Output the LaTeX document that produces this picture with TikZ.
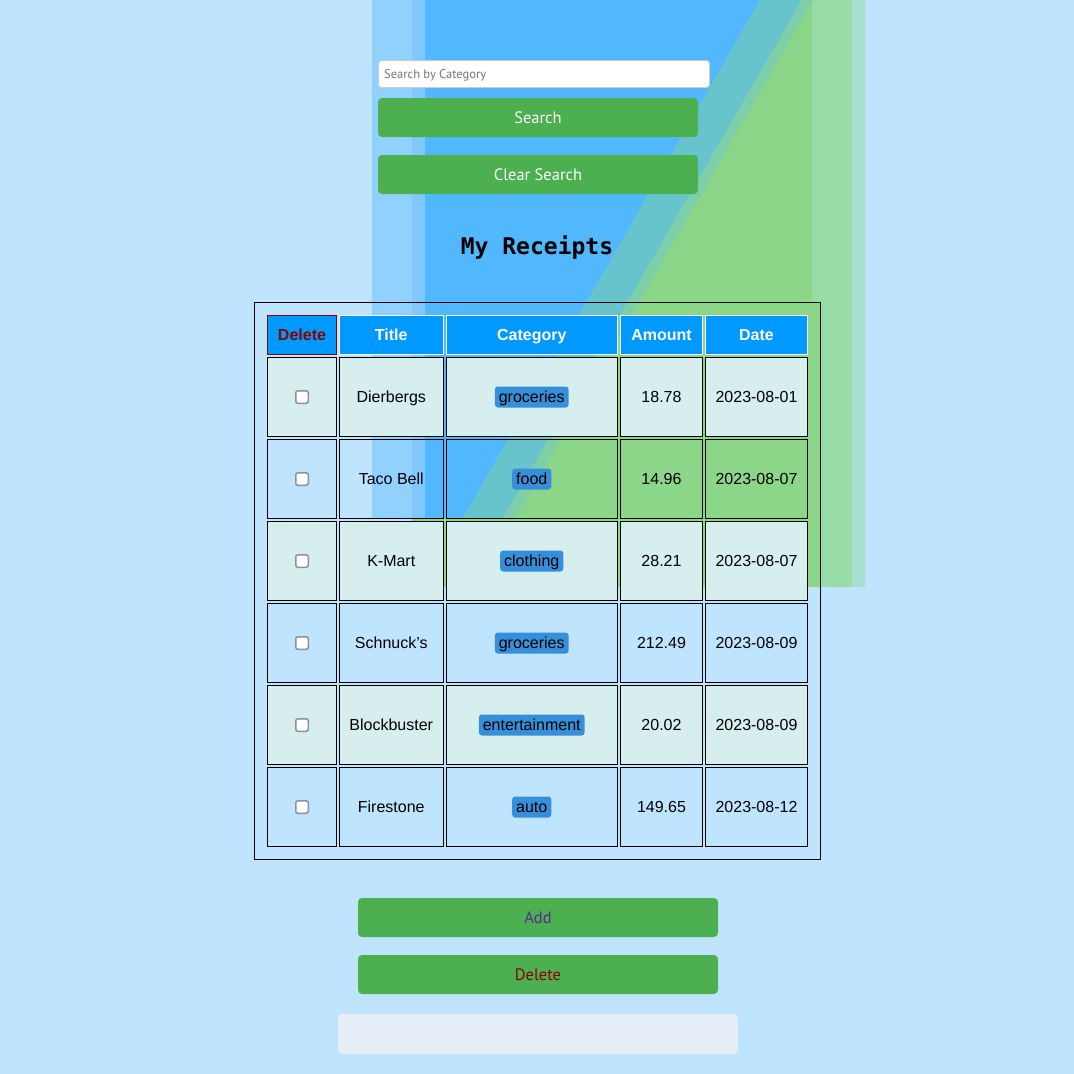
\documentclass[tikz,border=0pt]{standalone}
\usepackage{fontspec}
\setmainfont{Liberation Sans}
\newfontfamily\btnfont{PT Sans}
\newfontfamily\titlefont{DejaVu Sans Mono}
\definecolor{pagebg}{HTML}{BFE4FD}
\definecolor{paleblue}{HTML}{91D1FD}
\definecolor{midblue}{HTML}{80C8FD}
\definecolor{skyblue}{HTML}{52B8FE}
\definecolor{tealband}{HTML}{68C4CC}
\definecolor{mintband}{HTML}{7ECEAA}
\definecolor{panelgreen}{HTML}{8BD688}
\definecolor{stripegreen}{HTML}{98DBA6}
\definecolor{stripemint}{HTML}{A6DFCE}
\definecolor{btngreen}{HTML}{4CAF50}
\definecolor{headblue}{HTML}{0099FF}
\definecolor{oddrow}{HTML}{D6EEEE}
\definecolor{badgeblue}{HTML}{378FDA}
\definecolor{boxgray}{HTML}{8F8F9D}
\definecolor{darkred}{HTML}{8B0000}
\definecolor{addpurple}{HTML}{512E91}
\definecolor{placegray}{HTML}{757575}
\definecolor{statusbg}{HTML}{E6EFF8}
\newcommand\px[1]{\fontsize{#1}{#1}\selectfont}

\begin{document}
\begin{tikzpicture}[
  x=1pt,
  y=-1pt,
  cell/.style={draw=black, line width=1pt, inner sep=0pt,
    minimum height=79pt, text height=13pt, text depth=1.5pt, font=\px{16}},
  row1/.style={fill=oddrow},
  row0/.style={},
  headcell/.style={draw=white, fill=headblue, line width=1pt, inner sep=0pt,
    minimum height=39pt, text height=13pt, text depth=1.5pt,
    text=white, font=\bfseries\px{16}},
  badge/.style={fill=badgeblue, rounded corners=3pt, inner xsep=4pt,
    inner ysep=0pt, text height=13pt, text depth=1.5pt, minimum height=21pt,
    font=\px{16}},
  checkbox/.style={draw=boxgray, fill=white, line width=1.5pt,
    rounded corners=2pt, minimum size=12.5pt, inner sep=0pt},
  button/.style={fill=btngreen, rounded corners=4pt, minimum width=320pt,
    minimum height=39pt, inner sep=0pt, text height=14pt, text depth=1.5pt,
    font=\btnfont\px{16.5}}]
\useasboundingbox[fill=pagebg] (0,0) rectangle (1074,1074);
% background panel
\fill[panelgreen] (443,0) rectangle (812,587);
\fill[panelgreen] (412,518) rectangle (812,587);
\fill[stripegreen] (812,0) rectangle (852,587);
\fill[stripemint] (852,0) rectangle (865,587);
\fill[paleblue] (372,0) rectangle (412,518);
\fill[midblue] (412,0) rectangle (425,518);
\fill[skyblue] (425,0) -- (760,0) -- (463,518) -- (425,518) -- cycle;
\fill[tealband] (760,0) -- (802,0) -- (503,518) -- (463,518) -- cycle;
\fill[mintband] (802,0) -- (813,0) -- (515,518) -- (503,518) -- cycle;
\fill[panelgreen] (808.5,303) rectangle (820,587);
% search form
\node[draw=black!20, fill=white, rounded corners=3pt, line width=1pt,
  minimum width=331pt, minimum height=27pt, inner sep=0pt] (query) at (544,74) {};
\node[anchor=west, inner sep=0pt, text=placegray, font=\btnfont\px{12.5}]
  (hint) at (384,75.5) {Search by Category};
\node[button, text=white] (search) at (538,117.5) {Search};
\node[button, text=white] (clear) at (538,174.5) {Clear Search};
\node[font=\titlefont\bfseries\px{23}] (title) at (537,247.5) {My Receipts};
% table
\draw[line width=1pt] (254.5,302.5) rectangle (820.5,859.5);
\node[headcell, draw=darkred, text=darkred, minimum width=69pt] (h-del) at (302,335) {Delete};
\node[headcell, minimum width=103.5pt] (h-title) at (391.25,335) {Title};
\node[headcell, minimum width=170.5pt] (h-cat) at (531.75,335) {Category};
\node[headcell, minimum width=82pt] (h-amt) at (661.5,335) {Amount};
\node[headcell, minimum width=102pt] (h-date) at (756.5,335) {Date};
\foreach \t/\c/\a/\d [count=\r] in {
  Dierbergs/groceries/18.78/2023-08-01,
  Taco Bell/food/14.96/2023-08-07,
  K-Mart/clothing/28.21/2023-08-07,
  Schnuck's/groceries/212.49/2023-08-09,
  Blockbuster/entertainment/20.02/2023-08-09,
  Firestone/auto/149.65/2023-08-12}{
  \pgfmathsetmacro\yy{397+82*(\r-1)}
  \pgfmathtruncatemacro\odd{mod(\r,2)}
  \node[cell, row\odd, minimum width=69pt] (del-\r) at (302,\yy) {};
  \node[checkbox] (box-\r) at (del-\r) {};
  \node[cell, row\odd, minimum width=103.5pt] (title-\r) at (391.25,\yy) {\t};
  \node[cell, row\odd, minimum width=170.5pt] (cat-\r) at (531.75,\yy) {};
  \node[badge] (tag-\r) at (cat-\r) {\c};
  \node[cell, row\odd, minimum width=82pt] (amt-\r) at (661.5,\yy) {\a};
  \node[cell, row\odd, minimum width=102pt] (date-\r) at (756.5,\yy) {\d};
}
% bottom controls
\node[button, text=addpurple, minimum width=360pt] (add) at (538,917.5) {Add};
\node[button, text=darkred, minimum width=360pt] (remove) at (538,974.5) {Delete};
\node[fill=statusbg, rounded corners=4pt, minimum width=400pt,
  minimum height=40pt, inner sep=0pt] (status) at (538,1034) {};
\end{tikzpicture}
\end{document}
